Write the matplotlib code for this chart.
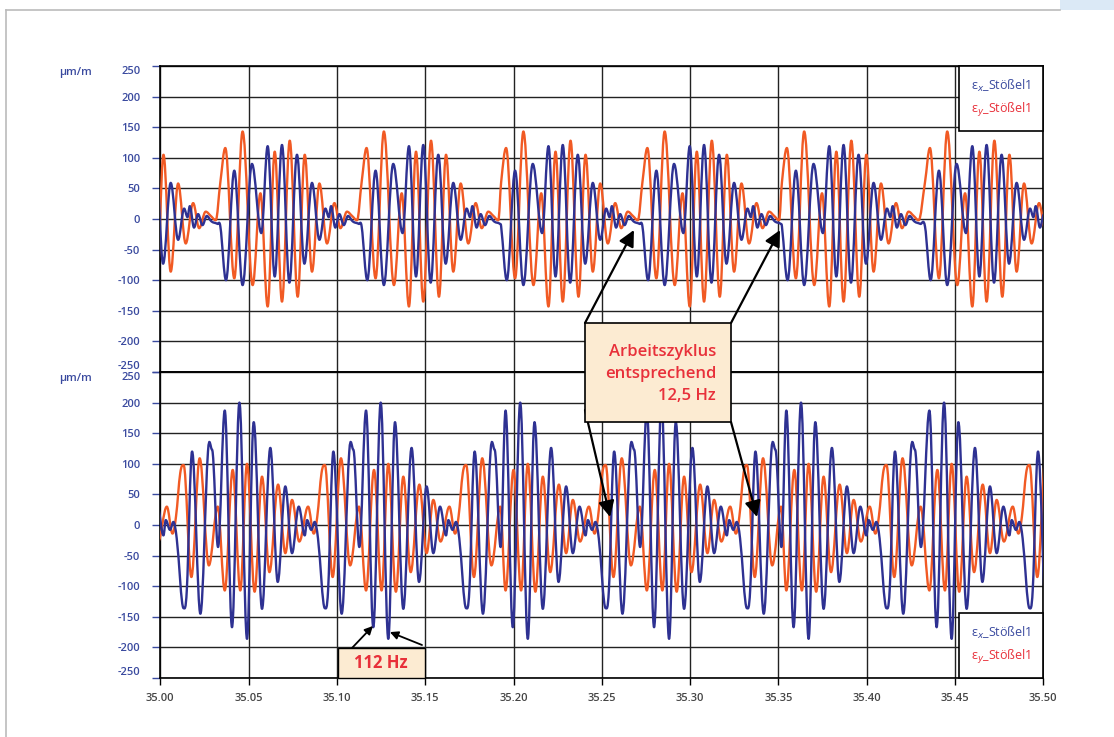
import numpy as np
import matplotlib.pyplot as plt
from matplotlib.lines import Line2D
from matplotlib.patches import Rectangle, PathPatch
from matplotlib.path import Path

plt.rcParams['font.family'] = ['Open Sans', 'DejaVu Sans']

W, H = 1114, 737

# start of each 12.5 Hz working cycle (s)
CYCLE_STARTS = [34.954, 35.034, 35.114, 35.193, 35.273, 35.352, 35.433, 35.513]

# one cycle of each trace: local extrema as (phase in ms, value in um/m)
TOP_X_PHASE = [0.0, 3.2, 7.9, 12.6, 17.9, 23.2, 26.8, 30.8, 34.9, 39.1, 43.4, 47.6,
               51.9, 56.1, 59.5, 61.4, 62.7, 65.1, 67.4, 69.9, 72.3, 75.0, 78.4]
TOP_X_VAL = [-12, -100, 79, -108, 90, -23, 119, -94, 121, -104, 105, -73,
             59, -34, 17, 3, 21, -14, 8, -10, 5, -4, -8]

TOP_Y_PHASE = [0.0, 2.8, 7.9, 12.6, 18.3, 22.7, 26.8, 30.8, 34.9, 39.3, 43.8, 47.8,
               51.9, 56.1, 60.4, 64.6, 68.0, 71.7, 74.6, 77.4]
TOP_Y_VAL = [60, 116, -97, 143, -108, 42, -143, 110, -135, 128, -127, 105,
             -86, 58, -40, 26, -15, 12, 5, -2]

BOT_X_PHASE = [2.5, 6.6, 10.8, 15.1, 18.9, 23.6, 28.3, 32.5, 36.8, 40.6, 44.4, 47.8,
               49.1, 51.5, 53.4, 55.3, 59.2, 61.0, 64.0, 68.7, 73.0, 75.3, 78.7]
BOT_X_VAL = [187, -167, 200, -186, 168, -137, 126, -93, 63, -46, 30, -17,
             8, -8, 5, -22, -136, -107, 120, -145, 120, 123, -36]

BOT_Y_PHASE = [2.5, 7.0, 11.3, 15.1, 19.4, 23.6, 27.8, 32.7, 36.8, 40.6, 44.7, 49.7,
               52.9, 54.9, 57.3, 59.2, 63.6, 68.3, 73.5, 78.5]
BOT_Y_VAL = [-107, 90, -107, 100, -109, 79, -77, 66, -46, 41, -27, 30,
             -14, 14, 85, 98, -85, 109, -66, 30]

X_TICKS = [35.00, 35.05, 35.10, 35.15, 35.20, 35.25, 35.30, 35.35, 35.40, 35.45, 35.50]
Y_TICKS = [-250, -200, -150, -100, -50, 0, 50, 100, 150, 200, 250]
LABEL_X = 'ε$_x$_Stößel1'
LABEL_Y = 'ε$_y$_Stößel1'

BLUE = '#2e3192'
ORANGE = '#f15a24'
RED_TXT = '#e8303a'
TICK_BLUE = '#3a4a9f'
PEACH = '#fcebd2'


def build(phase, vals):
    t = np.concatenate([s + np.array(phase) / 1000.0 for s in CYCLE_STARTS])
    v = np.tile(np.array(vals, dtype=float), len(CYCLE_STARTS))
    return t, v


def smooth_path(t, v, k=0.36):
    # smoothed line (like a spreadsheet "smoothed" series): cubic Bezier
    # segments through the read points, flat tangent at extrema
    n = len(t)
    slope = np.zeros(n)
    for i in range(1, n - 1):
        if (v[i] - v[i - 1]) * (v[i + 1] - v[i]) > 0:
            slope[i] = (v[i + 1] - v[i - 1]) / (t[i + 1] - t[i - 1])
    verts = [(t[0], v[0])]
    codes = [Path.MOVETO]
    for i in range(n - 1):
        dt = t[i + 1] - t[i]
        verts += [(t[i] + k * dt, v[i] + slope[i] * k * dt),
                  (t[i + 1] - k * dt, v[i + 1] - slope[i + 1] * k * dt),
                  (t[i + 1], v[i + 1])]
        codes += [Path.CURVE4] * 3
    return Path(verts, codes)


def fxy(x, y):
    # pixel position in the picture -> figure fraction
    return x / W, 1 - y / H


fig = plt.figure(figsize=(W / 100, H / 100), dpi=100)

# outer frame of the page
fig.add_artist(Line2D([6 / W, 1060 / W], [1 - 10 / H] * 2, color='#bbbbbb', lw=1.2,
                      transform=fig.transFigure))
fig.add_artist(Line2D([6 / W] * 2, [0, 1 - 10 / H], color='#bbbbbb', lw=1.2,
                      transform=fig.transFigure))
fig.add_artist(Rectangle(fxy(1060, 10), 54 / W, 10 / H, transform=fig.transFigure,
                         facecolor='#dbe9f6', edgecolor='none'))

ax1 = fig.add_axes([160.3 / W, 1 - 372 / H, 883 / W, 306 / H])
ax2 = fig.add_axes([160.3 / W, 1 - 678 / H, 883 / W, 306 / H])

series = [
    (ax1, build(TOP_X_PHASE, TOP_X_VAL), build(TOP_Y_PHASE, TOP_Y_VAL), 'upper right'),
    (ax2, build(BOT_X_PHASE, BOT_X_VAL), build(BOT_Y_PHASE, BOT_Y_VAL), 'lower right'),
]

for ax, (tx, vx), (ty, vy), loc in series:
    ax.add_patch(PathPatch(smooth_path(ty, vy), fill=False, edgecolor=ORANGE,
                           lw=1.7, zorder=3, capstyle='round', joinstyle='round'))
    ax.add_patch(PathPatch(smooth_path(tx, vx), fill=False, edgecolor=BLUE,
                           lw=1.7, zorder=4, capstyle='round', joinstyle='round'))
    ax.set_xlim(35.0, 35.5)
    ax.set_ylim(-250, 250)
    ax.set_xticks(X_TICKS)
    ax.set_yticks(Y_TICKS)
    ax.set_yticklabels([str(v) for v in Y_TICKS])
    ax.grid(True, color='#222222', lw=1.0, zorder=1)
    ax.set_axisbelow(True)
    for sp in ax.spines.values():
        sp.set_color('black')
        sp.set_linewidth(1.2)
    ax.tick_params(axis='y', which='both', length=5.5, width=1, color=TICK_BLUE,
                   labelcolor=TICK_BLUE, labelsize=8, pad=9)
    for lab in ax.get_yticklabels():
        lab.set_fontweight('semibold')
    yt = ax.yaxis.get_major_ticks()
    yt[0].label1.set_va('bottom')
    yt[-1].label1.set_va('top')

    handles = [Line2D([], [], color='none'), Line2D([], [], color='none')]
    leg = ax.legend(handles, [LABEL_X, LABEL_Y], loc=loc, borderaxespad=0,
                    handlelength=0, handletextpad=0, fancybox=False, framealpha=1,
                    fontsize=9, borderpad=0.95, labelspacing=0.55)
    leg.get_frame().set_edgecolor('black')
    leg.get_frame().set_linewidth(1.2)
    leg.set_zorder(6)
    for txt, col in zip(leg.get_texts(), [TICK_BLUE, RED_TXT]):
        txt.set_color(col)

ax1.tick_params(axis='x', length=0, labelbottom=False)
ax2.tick_params(axis='x', length=5, width=1, color='black', labelcolor='#444444',
                labelsize=8, pad=6)
ax2.set_xticklabels(['%.2f' % v for v in X_TICKS])
for lab in ax2.get_xticklabels():
    lab.set_fontweight('semibold')

for y in [73, 378]:
    fig.text(*fxy(75, y), 'µm/m', ha='center', va='center', color=TICK_BLUE,
             fontsize=8, fontweight='semibold')

# "Arbeitszyklus" call-out
fig.add_artist(Rectangle(fxy(585, 422), 146 / W, 99 / H, transform=fig.transFigure,
                         facecolor=PEACH, edgecolor='black', lw=1.2, zorder=10))
fig.text(*fxy(716, 374), 'Arbeitszyklus\nentsprechend\n12,5 Hz', ha='right',
         va='center', ma='right', linespacing=1.5, color=RED_TXT, fontsize=12,
         fontweight='semibold', zorder=11)

big = dict(arrowstyle='-|>', color='black', lw=1.6, mutation_scale=24,
           shrinkA=0, shrinkB=0)
ax1.annotate('', xy=(35.2682, -18), xytext=fxy(585, 323), textcoords='figure fraction',
             arrowprops=big, zorder=12)
ax1.annotate('', xy=(35.3509, -18), xytext=fxy(731, 323), textcoords='figure fraction',
             arrowprops=big, zorder=12)
ax2.annotate('', xy=(35.2547, 13), xytext=fxy(585, 410), textcoords='figure fraction',
             arrowprops=big, zorder=12)
ax2.annotate('', xy=(35.3379, 13), xytext=fxy(731, 422), textcoords='figure fraction',
             arrowprops=big, zorder=12)

# "112 Hz" call-out
fig.add_artist(Rectangle(fxy(338, 678), 87 / W, 30 / H, transform=fig.transFigure,
                         facecolor=PEACH, edgecolor='black', lw=1.0, zorder=10))
fig.text(*fxy(381, 663), '112 Hz', ha='center', va='center', color=RED_TXT,
         fontsize=12, fontweight='bold', zorder=11)
small = dict(arrowstyle='-|>', color='black', lw=1.3, mutation_scale=12,
             shrinkA=0, shrinkB=0)
ax2.annotate('', xy=(35.1204, -165), xytext=fxy(352, 648), textcoords='figure fraction',
             arrowprops=small, zorder=12)
ax2.annotate('', xy=(35.1300, -175), xytext=fxy(422, 645), textcoords='figure fraction',
             arrowprops=small, zorder=12)

fig.savefig('out.png', dpi=100)
